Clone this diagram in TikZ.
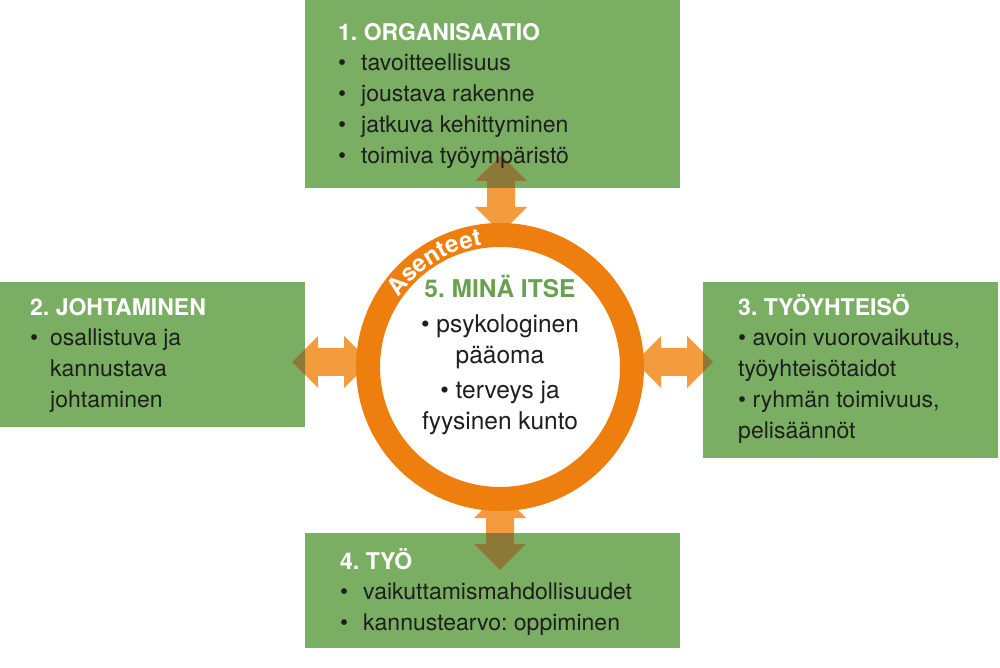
\documentclass[tikz,border=0pt]{standalone}
\usepackage{fontspec}
\setmainfont{TeX Gyre Heros}
\usetikzlibrary{decorations.text}
\frenchspacing
\definecolor{boxgreen}{HTML}{7AAF63}
\definecolor{ringorange}{HTML}{EE7F0F}
\definecolor{arrorange}{HTML}{F39C3E}
\definecolor{arrbrown}{HTML}{8C7837}
\definecolor{titlegreen}{HTML}{6AA150}
\definecolor{bodytext}{HTML}{1E1E1E}
\newcommand\blt[1][23pt]{\makebox[#1][l]{\textbullet}}
\newcommand\hd[1]{\textcolor{white}{\bfseries\vphantom{Ä}#1}}
\tikzset{
  dblarrow/.pic={\path[pic actions] (0,0) -- (-26,26) -- (-26,14) -- (-52,14) -- (-52,26)
    -- (-78,0) -- (-52,-26) -- (-52,-14) -- (-26,-14) -- (-26,-26) -- cycle;}
}
% the four double arrows between the boxes and the ring
\newcommand\placearrows[1]{%
  \pic[fill=#1, rotate=90] at (501,512) {dblarrow};
  \pic[fill=#1] at (713,305) {dblarrow};
  \pic[fill=#1, rotate=-90] at (500,97) {dblarrow};
  \pic[fill=#1, rotate=180] at (292,305) {dblarrow};}
\begin{document}
\begin{tikzpicture}[x=1pt, y=1pt,
  box/.style={fill=boxgreen, inner sep=0pt, outer sep=0pt, anchor=south west},
  boxtext/.style={inner sep=0pt, align=left, anchor=north west, text=bodytext,
    font=\fontsize{23}{30.8}\selectfont},
  centertext/.style={inner sep=0pt, align=center, anchor=north, text=bodytext,
    font=\fontsize{24.5}{31}\selectfont},
  ring/.style={circle, draw=ringorange, line width=24pt, fill=white,
    minimum size=264pt, inner sep=0pt}]
  \fill[white] (0,0) rectangle (1000,667);
  \useasboundingbox (0,0) rectangle (1000,667);
  % boxes
  \node[box, minimum width=375pt, minimum height=188pt] (org) at (305,479) {};
  \node[box, minimum width=305pt, minimum height=145pt] (jht) at (0,240) {};
  \node[box, minimum width=295pt, minimum height=176pt] (yht) at (703,209) {};
  \node[box, minimum width=375pt, minimum height=115pt] (tyo) at (305,19) {};
  % arrows, darker where they lie on a box
  \placearrows{arrorange}
  \begin{scope}
    \clip (org.south west) rectangle (org.north east)
          (jht.south west) rectangle (jht.north east)
          (yht.south west) rectangle (yht.north east)
          (tyo.south west) rectangle (tyo.north east);
    \placearrows{arrbrown}
  \end{scope}
  % ring
  \node[ring] (me) at (500,300) {};
  \path[decorate, decoration={text along path, text align=center, text color=white,
      text={|\bfseries\fontsize{24}{28}\selectfont|Asenteet}}]
    ([shift={(152:123)}]me.center) arc[start angle=152, end angle=92, radius=123];
  % texts
  \node[boxtext] (orgtxt) at ([shift={(33,-19)}]org.north west)
    {\hd{1. ORGANISAATIO}\\ \blt tavoitteellisuus\\ \blt joustava rakenne\\
     \blt jatkuva kehittyminen\\ \blt toimiva työympäristö};
  \node[boxtext] (jhttxt) at ([shift={(30,-12)}]jht.north west)
    {\hd{2. JOHTAMINEN}\\ \blt[20pt]osallistuva ja\\ \hspace*{20pt}kannustava\\
     \hspace*{20pt}johtaminen};
  \node[boxtext] (yhttxt) at ([shift={(35,-12)}]yht.north west)
    {\hd{3. TYÖYHTEISÖ}\\ \textbullet{} avoin vuorovaikutus,\\ työyhteisötaidot\\
     \textbullet{} ryhmän toimivuus,\\ pelisäännöt};
  \node[boxtext] (tyotxt) at ([shift={(35,-15)}]tyo.north west)
    {\hd{4. TYÖ}\\ \blt vaikuttamismahdollisuudet\\ \blt kannustearvo: oppiminen};
  \node[centertext] (metxt) at (500,392)
    {\textcolor{titlegreen}{\bfseries 5. MINÄ ITSE}\\[4pt] \textbullet{} psykologinen\\
     pääoma\\[4pt] \textbullet{} terveys ja\\ fyysinen kunto};
\end{tikzpicture}
\end{document}
